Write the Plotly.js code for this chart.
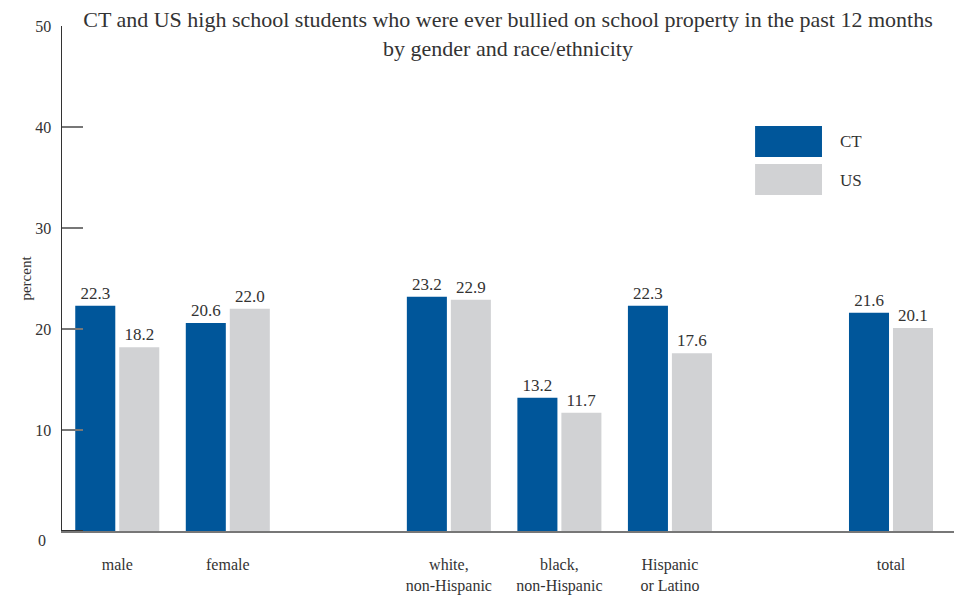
<!DOCTYPE html>
<html>
<head>
<meta charset="utf-8">
<script src="https://cdn.plot.ly/plotly-3.0.1.min.js"></script>
<style>html,body{margin:0;padding:0;background:#fff;}#chart{width:954px;height:598px;}</style>
</head>
<body>
<div id="chart"></div>
<script>
// Data
var categories = ["male", "female", "white,<br>non-Hispanic", "black,<br>non-Hispanic", "Hispanic<br>or Latino", "total"];
var slotOrder = ["male", "female", "_gap1", "white,<br>non-Hispanic", "black,<br>non-Hispanic", "Hispanic<br>or Latino", "_gap2", "total"];
var ctValues = [22.3, 20.6, 23.2, 13.2, 22.3, 21.6];
var usValues = [18.2, 22.0, 22.9, 11.7, 17.6, 20.1];
var seriesNames = ["CT", "US"];
var yTicks = [10, 20, 30, 40, 50];

var FONT = "'Liberation Serif', 'DejaVu Serif', serif";
var TXT = "#333333";
var CT_COLOR = "#00569A";
var US_COLOR = "#D1D2D4";

function barTrace(name, vals, color) {
  return {
    type: "bar", name: name, x: categories, y: vals,
    marker: {color: color},
    text: vals.map(function(v){ return v.toFixed(1); }),
    textposition: "outside", cliponaxis: false, constraintext: "none",
    textfont: {family: FONT, size: 17, color: TXT},
    hoverinfo: "x+y", showlegend: false
  };
}

var data = [barTrace(seriesNames[0], ctValues, CT_COLOR), barTrace(seriesNames[1], usValues, US_COLOR)];

var layout = {
  width: 954, height: 598,
  margin: {l: 62, r: 0, t: 26, b: 67},
  paper_bgcolor: "#fff", plot_bgcolor: "#fff",
  font: {family: FONT, color: TXT},
  barmode: "group", bargap: 0.204, bargroupgap: 0.09,
  title: {
    text: "CT and US high school students who were ever bullied on school property in the past 12 months<br>by gender and race/ethnicity",
    font: {family: FONT, size: 22, color: TXT},
    x: 0.5, xanchor: "center", xref: "paper",
    y: 0.955, yanchor: "top", yref: "container"
  },
  xaxis: {
    type: "category", categoryorder: "array", categoryarray: slotOrder,
    range: [-0.5, 7.57],
    tickvals: categories, ticktext: categories,
    ticks: "", showgrid: false, zeroline: false,
    showline: true, linecolor: "#777777", linewidth: 2,
    tickfont: {family: FONT, size: 16, color: TXT},
    ticklabelstandoff: 18
  },
  yaxis: {
    range: [0, 50], tickvals: yTicks, ticktext: yTicks.map(String),
    ticks: "inside", ticklen: 21, tickwidth: 2, tickcolor: "#777777",
    showgrid: false, zeroline: false,
    showline: true, linecolor: "#333333", linewidth: 1.5,
    tickfont: {family: FONT, size: 16, color: TXT},
    ticklabelstandoff: 6,
    title: {text: "percent", font: {family: FONT, size: 15, color: TXT}, standoff: 0}
  },
  shapes: [
    {type: "rect", xref: "paper", yref: "paper", x0: 0.777, x1: 0.852, y0: 0.7406, y1: 0.802, fillcolor: CT_COLOR, line: {width: 0}},
    {type: "rect", xref: "paper", yref: "paper", x0: 0.777, x1: 0.852, y0: 0.6653, y1: 0.7267, fillcolor: US_COLOR, line: {width: 0}},
    {type: "line", xref: "paper", yref: "y", x0: 0, x1: 0.0235, y0: 0, y1: 0, line: {color: "#333333", width: 2}}
  ],
  annotations: [
    {xref: "paper", yref: "paper", x: 0.870, y: 0.772, xanchor: "left", yanchor: "middle", text: seriesNames[0], showarrow: false, font: {family: FONT, size: 17, color: TXT}},
    {xref: "paper", yref: "paper", x: 0.870, y: 0.695, xanchor: "left", yanchor: "middle", text: seriesNames[1], showarrow: false, font: {family: FONT, size: 17, color: TXT}},
    {xref: "paper", yref: "paper", x: -0.016, y: -0.0198, xanchor: "right", yanchor: "middle", text: "0", showarrow: false, font: {family: FONT, size: 16, color: TXT}}
  ]
};

Plotly.newPlot("chart", data, layout, {displayModeBar: false, staticPlot: true});
</script>
</body>
</html>
